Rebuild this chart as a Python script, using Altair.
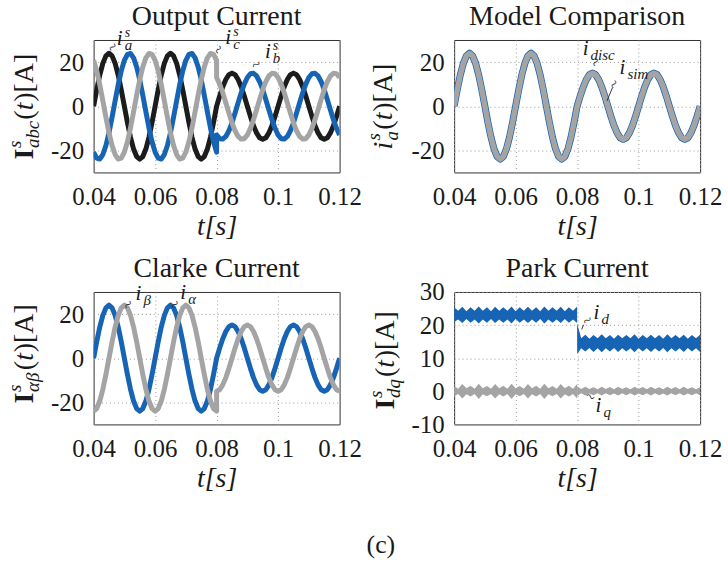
import altair as alt
import pandas as pd

FONT = "Liberation Serif"
BLUE = "#1764b4"
GREY = "#a4a4a4"
BLACK = "#1c1c1c"
INK = "#1a1a1a"

X_TICKS = [0.04, 0.06, 0.08, 0.10, 0.12]
Y_TICKS = [-20, 0, 20]
Y_TICKS_PARK = [-10, 0, 10, 20, 30]

# sample instants (1 ms) before and after the load step at t = 0.08 s
T_PRE = [round(0.040 + 0.001 * k, 3) for k in range(41)]
T_POST = [round(0.080 + 0.001 * k, 3) for k in range(41)]

# Output current, phase a (black)
IA_PRE = [0.0, 7.4, 14.1, 19.4, 22.8, 24.0, 22.8, 19.4, 14.1, 7.4, 0.0, -7.4, -14.1, -19.4, -22.8, -24.0, -22.8, -19.4, -14.1, -7.4,
          0.0, 7.4, 14.1, 19.4, 22.8, 24.0, 22.8, 19.4, 14.1, 7.4, 0.0, -7.4, -14.1, -19.4, -22.8, -24.0, -22.8, -19.4, -14.1, -7.4, 0.0]
IA_POST = [0.0, 4.6, 8.8, 12.1, 14.3, 15.0, 14.3, 12.1, 8.8, 4.6, 0.0, -4.6, -8.8, -12.1, -14.3, -15.0, -14.3, -12.1, -8.8, -4.6,
           0.0, 4.6, 8.8, 12.1, 14.3, 15.0, 14.3, 12.1, 8.8, 4.6, 0.0, -4.6, -8.8, -12.1, -14.3, -15.0, -14.3, -12.1, -8.8, -4.6, 0.0]
# phase b (blue)
IB_PRE = [-20.8, -23.5, -23.9, -21.9, -17.8, -12.0, -5.0, 2.5, 9.8, 16.1, 20.8, 23.5, 23.9, 21.9, 17.8, 12.0, 5.0, -2.5, -9.8, -16.1,
          -20.8, -23.5, -23.9, -21.9, -17.8, -12.0, -5.0, 2.5, 9.8, 16.1, 20.8, 23.5, 23.9, 21.9, 17.8, 12.0, 5.0, -2.5, -9.8, -16.1, -20.8]
IB_POST = [-13.0, -14.7, -14.9, -13.7, -11.1, -7.5, -3.1, 1.6, 6.1, 10.0, 13.0, 14.7, 14.9, 13.7, 11.1, 7.5, 3.1, -1.6, -6.1, -10.0,
           -13.0, -14.7, -14.9, -13.7, -11.1, -7.5, -3.1, 1.6, 6.1, 10.0, 13.0, 14.7, 14.9, 13.7, 11.1, 7.5, 3.1, -1.6, -6.1, -10.0, -13.0]
# phase c (grey)
IC_PRE = [20.8, 16.1, 9.8, 2.5, -5.0, -12.0, -17.8, -21.9, -23.9, -23.5, -20.8, -16.1, -9.8, -2.5, 5.0, 12.0, 17.8, 21.9, 23.9, 23.5,
          20.8, 16.1, 9.8, 2.5, -5.0, -12.0, -17.8, -21.9, -23.9, -23.5, -20.8, -16.1, -9.8, -2.5, 5.0, 12.0, 17.8, 21.9, 23.9, 23.5, 20.8]
IC_POST = [13.0, 10.0, 6.1, 1.6, -3.1, -7.5, -11.1, -13.7, -14.9, -14.7, -13.0, -10.0, -6.1, -1.6, 3.1, 7.5, 11.1, 13.7, 14.9, 14.7,
           13.0, 10.0, 6.1, 1.6, -3.1, -7.5, -11.1, -13.7, -14.9, -14.7, -13.0, -10.0, -6.1, -1.6, 3.1, 7.5, 11.1, 13.7, 14.9, 14.7, 13.0]

# Clarke current: i_alpha (blue) follows phase a, i_beta (grey)
IALPHA_PRE = IA_PRE
IALPHA_POST = IA_POST
IBETA_PRE = [-24.0, -22.8, -19.4, -14.1, -7.4, 0.0, 7.4, 14.1, 19.4, 22.8, 24.0, 22.8, 19.4, 14.1, 7.4, 0.0, -7.4, -14.1, -19.4, -22.8,
             -24.0, -22.8, -19.4, -14.1, -7.4, 0.0, 7.4, 14.1, 19.4, 22.8, 24.0, 22.8, 19.4, 14.1, 7.4, 0.0, -7.4, -14.1, -19.4, -22.8, -24.0]
IBETA_POST = [-15.0, -14.3, -12.1, -8.8, -4.6, 0.0, 4.6, 8.8, 12.1, 14.3, 15.0, 14.3, 12.1, 8.8, 4.6, 0.0, -4.6, -8.8, -12.1, -14.3,
              -15.0, -14.3, -12.1, -8.8, -4.6, 0.0, 4.6, 8.8, 12.1, 14.3, 15.0, 14.3, 12.1, 8.8, 4.6, 0.0, -4.6, -8.8, -12.1, -14.3, -15.0]

# Model comparison: discrete model (blue) and simulation (grey)
IDISC_PRE = IA_PRE
IDISC_POST = IA_POST
ISIM_PRE = IA_PRE
ISIM_POST = IA_POST

# Park current ripple envelopes (bulge / waist alternating)
T_PARK_PRE = [round(0.04 + k * 0.04 / 30, 5) for k in range(31)]
T_PARK_POST = [round(0.08 + k * 0.04 / 30, 5) for k in range(31)]
ID_UP_PRE = [25.3, 24.3, 25.5, 24.2, 25.4, 24.3, 25.6, 24.3, 25.4, 24.2, 25.5, 24.3, 25.4, 24.3, 25.6, 24.2,
             25.4, 24.3, 25.5, 24.3, 25.4, 24.2, 25.6, 24.3, 25.4, 24.3, 25.5, 24.2, 25.4, 24.3, 25.6]
ID_LO_PRE = [20.9, 21.7, 20.6, 21.8, 20.7, 21.7, 20.5, 21.7, 20.7, 21.8, 20.6, 21.7, 20.7, 21.7, 20.5, 21.8,
             20.7, 21.7, 20.6, 21.7, 20.7, 21.8, 20.5, 21.7, 20.7, 21.7, 20.6, 21.8, 20.7, 21.7, 20.6]
ID_UP_POST = [20.5, 16.0, 17.1, 15.9, 17.0, 16.0, 17.2, 16.0, 17.0, 15.9, 17.1, 16.0, 17.0, 16.0, 17.2, 15.9,
              17.0, 16.0, 17.1, 16.0, 17.0, 15.9, 17.2, 16.0, 17.0, 16.0, 17.1, 15.9, 17.0, 16.0, 17.1]
ID_LO_POST = [11.3, 13.0, 12.0, 13.1, 11.9, 13.0, 11.8, 13.0, 12.0, 13.1, 11.9, 13.0, 12.0, 13.0, 11.8, 13.1,
              12.0, 13.0, 11.9, 13.0, 12.0, 13.1, 11.8, 13.0, 12.0, 13.0, 11.9, 13.1, 12.0, 13.0, 11.9]
IQ_UP_PRE = [1.6, 0.8, 2.2, 0.9, 1.7, 0.8, 2.3, 0.9, 1.6, 0.8, 2.2, 0.9, 1.7, 0.8, 2.3, 0.9,
             1.6, 0.8, 2.2, 0.9, 1.7, 0.8, 2.3, 0.9, 1.6, 0.8, 2.2, 0.9, 1.7, 0.8, 2.2]
IQ_LO_PRE = [-1.5, -0.8, -2.2, -0.9, -1.6, -0.8, -2.3, -0.9, -1.5, -0.8, -2.2, -0.9, -1.6, -0.8, -2.3, -0.9,
             -1.5, -0.8, -2.2, -0.9, -1.6, -0.8, -2.3, -0.9, -1.5, -0.8, -2.2, -0.9, -1.6, -0.8, -2.2]
IQ_UP_POST = [1.5, 0.7, 1.4, 0.7, 1.2, 0.6, 1.4, 0.7, 1.3, 0.6, 1.4, 0.7, 1.2, 0.6, 1.4, 0.7,
              1.3, 0.6, 1.4, 0.7, 1.2, 0.6, 1.4, 0.7, 1.3, 0.6, 1.4, 0.7, 1.2, 0.6, 1.3]
IQ_LO_POST = [-1.4, -0.6, -1.3, -0.7, -1.2, -0.6, -1.3, -0.6, -1.2, -0.7, -1.3, -0.6, -1.2, -0.6, -1.3, -0.7,
              -1.2, -0.6, -1.3, -0.6, -1.2, -0.7, -1.3, -0.6, -1.2, -0.6, -1.3, -0.7, -1.2, -0.6, -1.2]

# in-plot labels: base letter "i" with subscript / superscript
P1_LAB_X = [0.0475, 0.0828, 0.0957]
P1_LAB_Y = [27.9, 28.3, 22.0]
P1_LAB_SUB = ["a", "c", "b"]
P1_LAB_SUP = ["s", "s", "s"]
P1_SQ_X = [0.0462, 0.0807, 0.0929]
P1_SQ_Y = [26.8, 25.6, 18.9]
P1_SQ_A = [315, 305, 333]

P2_LAB_X = [0.0818, 0.0938]
P2_LAB_Y = [23.4, 14.4]
P2_LAB_SUB = ["disc", "sim"]
P2_LAB_SUP = ["", ""]
P2_SQ_X = [0.0861, 0.0920]
P2_SQ_Y = [19.9, 9.9]
P2_SQ_A = [300, 300]
P2_LEAD = {"x": [0.0915], "y": [8.4], "x2": [0.0897], "y2": [2.4]}

P3_LAB_X = [0.0536, 0.0682]
P3_LAB_Y = [26.4, 27.0]
P3_LAB_SUB = ["β", "α"]
P3_LAB_SUP = ["", ""]
P3_SQ_X = [0.0513, 0.0665]
P3_SQ_Y = [24.2, 24.2]
P3_SQ_A = [315, 315]

P4_LAB_X = [0.0853, 0.0860]
P4_LAB_Y = [21.9, -6.4]
P4_LAB_SUB = ["d", "q"]
P4_LAB_SUP = ["", ""]
P4_SQ_X = [0.0834, 0.0843]
P4_SQ_Y = [21.4, -1.7]
P4_SQ_A = [330, 30]
P4_LEAD = {"x": [0.0821], "y": [20.1], "x2": [0.0815], "y2": [18.7]}

W, H = 247, 133
M, S = 28, 19


def xenc(field):
    return alt.X(field, type="quantitative",
                 scale=alt.Scale(domain=[0.04, 0.12], nice=False, zero=False),
                 axis=alt.Axis(values=X_TICKS, title="t[s]", labelExpr="'' + datum.value"))


def yenc(field, dom, vals):
    return alt.Y(field, type="quantitative",
                 scale=alt.Scale(domain=dom, nice=False, zero=False),
                 axis=alt.Axis(values=vals, title=None,
                               labelExpr="datum.value < 0 ? '-' + abs(datum.value) : '' + datum.value"))


def series(pre, post):
    t = T_PRE + T_POST
    v = pre + post
    return pd.DataFrame({"t": t, "v": v, "o": list(range(len(t)))})


def line(pre, post, color, width, dom, vals):
    return alt.Chart(series(pre, post)).mark_line(
        color=color, strokeWidth=width, strokeJoin="round", clip=True
    ).encode(x=xenc("t"), y=yenc("v", dom, vals), order=alt.Order("o:Q"))


def band(up_pre, lo_pre, up_post, lo_post, color, dom, vals):
    df = pd.DataFrame({
        "t": T_PARK_PRE + T_PARK_POST,
        "up": up_pre + up_post,
        "lo": lo_pre + lo_post,
        "seg": ["pre"] * len(T_PARK_PRE) + ["post"] * len(T_PARK_POST),
    })
    return alt.Chart(df).mark_area(color=color, clip=True, opacity=1).encode(
        x=xenc("t"), y=yenc("lo", dom, vals), y2=alt.Y2("up"), detail="seg:N")


def labels(xs, ys, subs, sups, sqx, sqy, sqa, dom, vals):
    df = pd.DataFrame({"x": xs, "y": ys, "b": ["i"] * len(xs), "sub": subs, "sup": sups})
    base = alt.Chart(df).encode(x=xenc("x"), y=yenc("y", dom, vals))
    l1 = base.mark_text(font=FONT, fontSize=21, fontStyle="italic", align="left",
                        baseline="alphabetic", color=INK).encode(text="b:N")
    l2 = base.mark_text(font=FONT, fontSize=15, fontStyle="italic", align="left",
                        baseline="alphabetic", color=INK, dx=8, dy=5).encode(text="sub:N")
    l3 = base.mark_text(font=FONT, fontSize=14, fontStyle="italic", align="left",
                        baseline="alphabetic", color=INK, dx=8, dy=-8).encode(text="sup:N")
    sq = pd.DataFrame({"x": sqx, "y": sqy, "a": sqa, "g": ["~"] * len(sqx)})
    l4 = alt.Chart(sq).mark_text(font=FONT, fontSize=16, align="center", baseline="middle",
                                 color="#333333").encode(
        x=xenc("x"), y=yenc("y", dom, vals), text="g:N", angle=alt.Angle("a:Q", scale=None))
    return [l1, l2, l3, l4]


def leader(d, dom, vals):
    return alt.Chart(pd.DataFrame(d)).mark_rule(color="#333333", strokeWidth=1).encode(
        x=xenc("x"), y=yenc("y", dom, vals), x2=alt.X2("x2"), y2=alt.Y2("y2"))


def ytitle(pieces, bx, by):
    out = []
    for txt, along, perp, size, style, weight in pieces:
        out.append(alt.Chart(pd.DataFrame({"s": [txt]})).mark_text(
            font=FONT, fontSize=size, fontStyle=style, fontWeight=weight, angle=270,
            align="left", baseline="alphabetic", color=INK
        ).encode(x=alt.value(bx + perp), y=alt.value(by - along), text="s:N"))
    return out


def ptitle(text):
    return alt.Chart(pd.DataFrame({"s": [text]})).mark_text(
        font=FONT, fontSize=28, align="center", baseline="alphabetic", color=INK
    ).encode(x=alt.value(W / 2), y=alt.value(-15), text="s:N")


D1 = [-30, 30]
D4 = [-10, 30]

p1 = alt.layer(
    line(IA_PRE, IA_POST, BLACK, 5, D1, Y_TICKS),
    line(IB_PRE, IB_POST, BLUE, 5, D1, Y_TICKS),
    line(IC_PRE, IC_POST, GREY, 5, D1, Y_TICKS),
    *labels(P1_LAB_X, P1_LAB_Y, P1_LAB_SUB, P1_LAB_SUP, P1_SQ_X, P1_SQ_Y, P1_SQ_A, D1, Y_TICKS),
    *ytitle([("I", 0, 0, M, "normal", "bold"), ("s", 11.5, -12, S, "italic", "normal"),
             ("abc", 11.5, 6, S, "italic", "normal"), ("(", 40, 0, M, "normal", "normal"),
             ("t", 49.5, 0, M, "italic", "normal"), (")[A]", 58, 0, M, "normal", "normal")], -61, 120),
    ptitle("Output Current"),
).properties(width=W, height=H)

p2 = alt.layer(
    line(IDISC_PRE, IDISC_POST, BLUE, 7, D1, Y_TICKS),
    line(ISIM_PRE, ISIM_POST, GREY, 5.5, D1, Y_TICKS),
    leader(P2_LEAD, D1, Y_TICKS),
    *labels(P2_LAB_X, P2_LAB_Y, P2_LAB_SUB, P2_LAB_SUP, P2_SQ_X, P2_SQ_Y, P2_SQ_A, D1, Y_TICKS),
    *ytitle([("i", 0, 0, M, "italic", "normal"), ("s", 9, -12, S, "italic", "normal"),
             ("a", 9, 6, S, "italic", "normal"), ("(", 20, 0, M, "normal", "normal"),
             ("t", 29.5, 0, M, "italic", "normal"), (")[A]", 38, 0, M, "normal", "normal")], -62, 110),
    ptitle("Model Comparison"),
).properties(width=W, height=H)

p3 = alt.layer(
    line(IALPHA_PRE, IALPHA_POST, BLUE, 5, D1, Y_TICKS),
    line(IBETA_PRE, IBETA_POST, GREY, 5, D1, Y_TICKS),
    *labels(P3_LAB_X, P3_LAB_Y, P3_LAB_SUB, P3_LAB_SUP, P3_SQ_X, P3_SQ_Y, P3_SQ_A, D1, Y_TICKS),
    *ytitle([("I", 0, 0, M, "normal", "bold"), ("s", 11.5, -12, S, "italic", "normal"),
             ("αβ", 11.5, 6, S, "italic", "normal"), ("(", 33.5, 0, M, "normal", "normal"),
             ("t", 43, 0, M, "italic", "normal"), (")[A]", 51.5, 0, M, "normal", "normal")], -61, 112),
    ptitle("Clarke Current"),
).properties(width=W, height=H)

p4 = alt.layer(
    band(ID_UP_PRE, ID_LO_PRE, ID_UP_POST, ID_LO_POST, BLUE, D4, Y_TICKS_PARK),
    band(IQ_UP_PRE, IQ_LO_PRE, IQ_UP_POST, IQ_LO_POST, GREY, D4, Y_TICKS_PARK),
    leader(P4_LEAD, D4, Y_TICKS_PARK),
    *labels(P4_LAB_X, P4_LAB_Y, P4_LAB_SUB, P4_LAB_SUP, P4_SQ_X, P4_SQ_Y, P4_SQ_A, D4, Y_TICKS_PARK),
    *ytitle([("I", 0, 0, M, "normal", "bold"), ("s", 11.5, -12, S, "italic", "normal"),
             ("dq", 11.5, 6, S, "italic", "normal"), ("(", 32.5, 0, M, "normal", "normal"),
             ("t", 42, 0, M, "italic", "normal"), (")[A]", 50.5, 0, M, "normal", "normal")], -60, 118),
    ptitle("Park Current"),
).properties(width=W, height=H)

chart = alt.concat(
    p1, p2, p3, p4, columns=2, spacing={"row": 120, "column": 115}, bounds="flush",
    title=alt.TitleParams("(c)", orient="bottom", anchor="middle", offset=40, dx=17,
                          font=FONT, fontSize=26, fontWeight="normal", color=INK),
).properties(
    padding={"left": 5, "top": 1, "right": 5, "bottom": 5},
    background="white",
).configure_axis(
    labelFont=FONT, labelFontSize=25, labelColor=INK,
    titleFont=FONT, titleFontSize=28, titleFontWeight="normal", titleColor=INK,
    ticks=False, tickSize=0, domain=False, grid=True, gridColor="#9a9a9a",
    gridDash=[1, 3], gridWidth=1, labelFlush=False, labelOverlap=False,
).configure_axisX(
    labelPadding=12, titlePadding=3, titleFontStyle="italic",
).configure_axisY(
    labelPadding=10,
).configure_view(
    stroke="#303030", strokeWidth=1,
)

chart.save("out.html", embed_options={"renderer": "svg", "actions": False})
